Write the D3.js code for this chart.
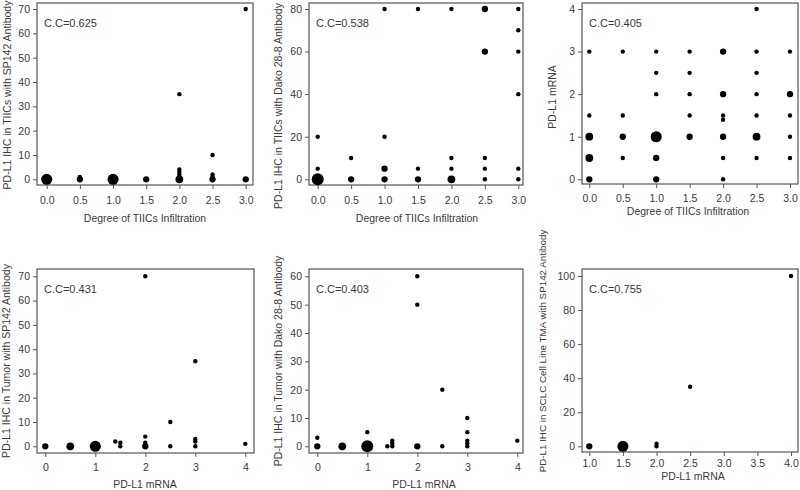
<!DOCTYPE html>
<html><head><meta charset="utf-8">
<script src="https://cdnjs.cloudflare.com/ajax/libs/d3/7.8.5/d3.min.js"></script>
<style>body{margin:0;background:#fff}text{font-family:"Liberation Sans",Arial,sans-serif;fill:#3a3a3a}</style>
</head><body><svg id="c" width="800" height="490"></svg>
<script>
// ---- data: [x, y, count] per panel ----
const p1x = [0,0.5,0.5,1,1.5,2,2,2,2,2,2,2.5,2.5,2.5,2.5,3,3];
const p1y = [0,0,1,0,0,0,1,2,3,4,35,0,1,2,10,0,70];
const p1n = [6,2,1,6,2,3,1,1,1,1,1,2,1,1,1,2,1];

const p2x = [0,0,0,0.5,0.5,1,1,1,1,1.5,1.5,1.5,2,2,2,2,2.5,2.5,2.5,2.5,2.5,3,3,3,3,3,3];
const p2y = [0,5,20,0,10,0,5,20,80,0,5,80,0,5,10,80,0,5,10,60,80,0,5,40,60,70,80];
const p2n = [7,1,1,2,1,2,2,1,1,2,1,1,3,1,1,1,1,1,1,2,2,1,1,1,1,1,1];

const p3x = [0,0,0,0,0,0.5,0.5,0.5,0.5,1,1,1,1,1,1,1.5,1.5,1.5,1.5,1.5,2,2,2,2,2,2,2,2.5,2.5,2.5,2.5,2.5,2.5,2.5,3,3,3,3,3];
const p3y = [0,0.5,1,1.5,3,0.5,1,1.5,3,0,0.5,1,2,2.5,3,1,1.5,2,2.5,3,0,0.5,1,1.4,1.5,2,3,0.5,1,1.5,2,2.5,3,4,0.5,1,1.5,2,3];
const p3n = [2,3,3,1,1,1,2,1,1,2,2,6,1,1,1,2,1,1,1,1,1,1,2,1,1,2,2,1,3,1,1,1,1,1,1,1,1,2,1];

const p4x = [0,0.5,1,1.4,1.5,1.5,2,2,2,2,2.5,2.5,3,3,3,3,4];
const p4y = [0,0,0,2,0,1.5,0,1.5,4,70,0,10,0,2,3,35,1];
const p4n = [2,3,6,1,1,1,2,1,1,1,1,1,1,1,1,1,1];

const p5x = [0,0,0.5,1,1,1.4,1.5,1.5,1.5,2,2,2,2.5,2.5,3,3,3,3,3,4];
const p5y = [0,3,0,0,5,0,0,1,2,0,50,60,0,20,0,1,2,5,10,2];
const p5n = [2,1,3,7,1,1,1,1,1,2,1,1,1,1,1,1,1,1,1,1];

const p6x = [1,1.5,2,2,2.5,4];
const p6y = [0,0,0,1.5,35,100];
const p6n = [2,6,1,1,1,1];

const ccLabels = ["C.C=0.625","C.C=0.538","C.C=0.405","C.C=0.431","C.C=0.403","C.C=0.755"];
const xTitles = ["Degree of TIICs Infiltration","Degree of TIICs Infiltration","Degree of TIICs Infiltration","PD-L1 mRNA","PD-L1 mRNA","PD-L1 mRNA"];
const yTitles = ["PD-L1 IHC in TIICs with SP142 Antibody","PD-L1 IHC in TIICs with Dako 28-8 Antibody","PD-L1 mRNA","PD-L1 IHC in Tumor with SP142 Antibody","PD-L1 IHC in Tumor with Dako 28-8 Antibody","PD-L1 IHC in SCLC Cell Line TMA with SP142 Antibody"];
const xTicks = [[0,0.5,1,1.5,2,2.5,3],[0,0.5,1,1.5,2,2.5,3],[0,0.5,1,1.5,2,2.5,3],[0,1,2,3,4],[0,1,2,3,4],[1,1.5,2,2.5,3,3.5,4]];
const yTicks = [[0,10,20,30,40,50,60,70],[0,20,40,60,80],[0,1,2,3,4],[0,10,20,30,40,50,60,70],[0,10,20,30,40,50,60],[0,20,40,60,80,100]];
const xFormats = [".1f",".1f",".1f","d","d",".1f"];

// ---- layout ----
const layout = [
 {box:[37,3,253,185], xd:[0,3], xr:[46.7,245.7], yd:[0,70], yr:[179.3,9], ytx:7, yty:95, xtx:145, xty:222, tly:200, yfs:10.5},
 {box:[309,3,523,185], xd:[0,3], xr:[317.7,518.3], yd:[0,80], yr:[179.3,9], ytx:278, yty:106, xtx:417, xty:222, tly:200, yfs:10.5},
 {box:[582,3,798,184], xd:[0,3], xr:[589.3,790], yd:[0,4], yr:[179.3,9], ytx:552, yty:97, xtx:688, xty:215, tly:198.5, yfs:10.5},
 {box:[37,269,254,453], xd:[0,4], xr:[45.3,245.3], yd:[0,70], yr:[446.3,276.3], ytx:6, yty:361, xtx:145, xty:488, tly:467, yfs:10.5},
 {box:[309,269,523,453], xd:[0,4], xr:[317.3,517.3], yd:[0,60], yr:[446.3,276.3], ytx:278, yty:361, xtx:424, xty:488, tly:467, yfs:10.5},
 {box:[582,269,798,452], xd:[1,4], xr:[589.3,791], yd:[0,100], yr:[446.3,276], ytx:542, yty:351, xtx:693, xty:480, tly:463, yfs:9.8}
];
const panels = [[p1x,p1y,p1n],[p2x,p2y,p2n],[p3x,p3y,p3n],[p4x,p4y,p4n],[p5x,p5y,p5n],[p6x,p6y,p6n]];

const svg = d3.select("#c");
const rScale = d3.scaleSqrt().domain([1,7]).range([2.2,6]);

panels.forEach((p,i)=>{
  const L = layout[i];
  const g = svg.append("g");
  const x = d3.scaleLinear().domain(L.xd).range(L.xr);
  const y = d3.scaleLinear().domain(L.yd).range(L.yr);
  const [bx0,by0,bx1,by1] = L.box;
  const xa = d3.axisBottom(x).tickValues(xTicks[i]).tickFormat(d3.format(xFormats[i])).tickSize(4).tickSizeOuter(0);
  const ya = d3.axisLeft(y).tickValues(yTicks[i]).tickFormat(d3.format("d")).tickSize(4).tickSizeOuter(0);
  const gx = g.append("g").attr("transform",`translate(0,${by1})`).call(xa);
  const gy = g.append("g").attr("transform",`translate(${bx0},0)`).call(ya);
  [gx,gy].forEach(a=>{
    a.select(".domain").remove();
    a.selectAll("line").attr("stroke","#555");
    a.selectAll("text").style("font-size","10.5px").attr("fill","#3a3a3a");
  });
  gx.selectAll("text").attr("y",L.tly-by1).attr("dy","0.35em");
  g.append("rect").attr("x",bx0).attr("y",by0).attr("width",bx1-bx0).attr("height",by1-by0)
    .attr("fill","none").attr("stroke","#555").attr("stroke-width",1.2);
  const pts = p[0].map((v,k)=>({x:v,y:p[1][k],n:p[2][k]}));
  g.selectAll("circle.pt").data(pts).enter().append("circle")
    .attr("cx",d=>x(d.x)).attr("cy",d=>y(d.y)).attr("r",d=>rScale(d.n)).attr("fill","#000");
  g.append("text").attr("x",bx0+7).attr("y",by0+24).style("font-size","11px").text(ccLabels[i]);
  g.append("text").attr("x",L.xtx).attr("y",L.xty).attr("text-anchor","middle").style("font-size","10.5px").text(xTitles[i]);
  g.append("text").attr("transform",`translate(${L.ytx+4},${L.yty}) rotate(-90)`).attr("text-anchor","middle").style("font-size",L.yfs+"px").text(yTitles[i]);
});
</script></body></html>
